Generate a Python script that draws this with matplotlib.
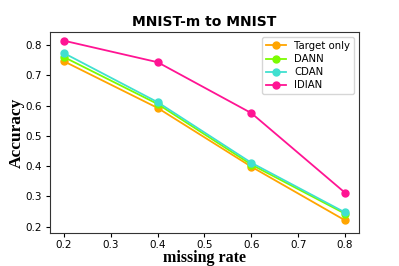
import matplotlib
matplotlib.use("Agg")
import matplotlib.pyplot as plt

missing_rate = [0.2, 0.4, 0.6, 0.8]
target_only = [0.746, 0.592, 0.398, 0.221]
dann = [0.760, 0.605, 0.405, 0.243]
cdan = [0.773, 0.611, 0.411, 0.247]
idian = [0.814, 0.743, 0.575, 0.312]

fig = plt.figure(figsize=(3.99, 2.66), dpi=100)
ax = fig.add_axes([0.125, 0.125, 0.775, 0.755])

ax.plot(missing_rate, target_only, "o-", color="orange", ms=5, lw=1.3, label="Target only")
ax.plot(missing_rate, dann, "o-", color="lawngreen", ms=5, lw=1.3, label="DANN")
ax.plot(missing_rate, cdan, "o-", color="turquoise", ms=5, lw=1.3, label="CDAN")
ax.plot(missing_rate, idian, "o-", color="deeppink", ms=5, lw=1.3, label="IDIAN")

ax.set_xticks([0.2, 0.3, 0.4, 0.5, 0.6, 0.7, 0.8])
ax.set_yticks([0.2, 0.3, 0.4, 0.5, 0.6, 0.7, 0.8])
ax.tick_params(labelsize=7.5, length=3, pad=2.5)
ax.set_ylim(0.18, 0.843)
for s in ax.spines.values():
    s.set_color("#333333")

ax.set_title("MNIST-m to MNIST", fontsize=10, fontweight="bold", pad=4)
ax.set_xlabel("missing rate", fontsize=11.5, fontweight="bold", family="Liberation Serif", labelpad=0)
ax.set_ylabel("Accuracy", fontsize=12.5, fontweight="bold", family="Liberation Serif", labelpad=0.5)
ax.legend(fontsize=7.3, loc="upper right", handlelength=2, borderpad=0.4, labelspacing=0.3)

fig.savefig("out.png", dpi=100)
